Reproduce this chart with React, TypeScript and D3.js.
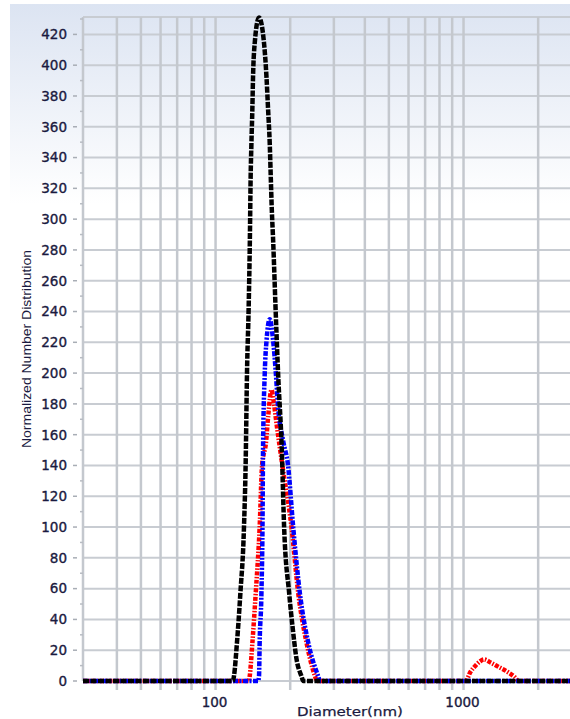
import React, { useRef, useEffect } from 'react';
import * as d3 from 'd3';

// Black series (diameter nm / normalized number)
const blackDiameters = [29.2, 117.5, 118.6, 122, 125.9, 130.2, 132.3, 133.9, 136, 137.5, 138.5, 139.5, 140.7, 141.6, 143.8, 149.7, 156.9, 160.5, 162.9, 165.4, 167, 168.6, 170.7, 174.5, 178.7, 185, 189, 198.1, 204.5, 212.2, 222.2, 225.7, 2688];
const blackValues = [0, 0, 3, 25, 57, 100, 143, 200, 243, 286, 327, 349, 371, 392, 414, 431, 414, 392, 371, 349, 327, 306, 286, 243, 200, 150, 100, 57, 35, 14, 3, 0, 0];

// Blue series
const blueDiameters = [29.2, 148.4, 149.7, 150.6, 153.1, 154.6, 155.4, 157.9, 160.5, 165.4, 170.7, 175, 178.7, 187.3, 196, 205.6, 218.8, 236.4, 259.5, 263.6, 2688];
const blueValues = [0, 0, 3, 25, 57, 100, 150, 200, 221, 235, 221, 200, 178, 156, 140, 100, 57, 25, 3, 0, 0];

// Red series
const redDiameters = [29.2, 136.4, 137.3, 140.8, 145.2, 150.6, 154, 160, 163, 168.1, 172, 176.2, 186, 202.4, 215.5, 232.6, 251.9, 256, 1019, 1067, 1118, 1172, 1208, 1286, 1390, 1503, 1598, 1674, 2688];
const redValues = [0, 0, 3, 25, 57, 100, 140, 156, 172, 189, 180, 167, 140, 100, 57, 25, 3, 0, 0, 6, 10, 13, 14, 12, 9, 6, 3, 0, 0];

// Axes
const xDomain = [29.2, 2688];
const yDomain = [0, 431.3];
const yTicks = d3.range(0, 421, 20);
const yMinorTicks = d3.range(10, 431, 20);
const xGrid = [40, 50, 60, 70, 80, 90, 100, 200, 300, 400, 500, 600, 700, 800, 900, 1000, 2000];
const xLabels = [100, 1000];

const App = () => {
    const svgRef = useRef<SVGSVGElement>(null);
    const svg_width = 570;
    const svg_height = 719;
    const margin = { top: 17, left: 83, right: 570, bottom: 681 };

    useEffect(() => {
        document.body.style.margin = '0';
        const svg = d3.select(svgRef.current);
        svg.selectAll('*').remove();

        const x = d3.scaleLog().domain(xDomain).range([margin.left, margin.right]);
        const y = d3.scaleLinear().domain(yDomain).range([margin.bottom, margin.top]);

        // background gradient
        const defs = svg.append('defs');
        const grad = defs.append('linearGradient').attr('id', 'bg').attr('x1', 0).attr('y1', 0).attr('x2', 0).attr('y2', 1);
        grad.append('stop').attr('offset', '0%').attr('stop-color', '#dce4f2');
        grad.append('stop').attr('offset', '28%').attr('stop-color', '#ffffff');
        svg.append('rect').attr('x', 0).attr('y', 0).attr('width', svg_width).attr('height', svg_height).attr('fill', '#fff');
        svg.append('rect').attr('x', 10).attr('y', 4).attr('width', svg_width - 10).attr('height', svg_height - 4).attr('fill', 'url(#bg)');

        const grid = svg.append('g');
        // horizontal grid
        grid.selectAll('.hgrid')
            .data(yTicks)
            .enter()
            .append('line')
            .attr('x1', margin.left).attr('x2', margin.right)
            .attr('y1', d => y(d)).attr('y2', d => y(d))
            .attr('stroke', '#c8ccd2').attr('stroke-width', 2);
        grid.append('line')
            .attr('x1', margin.left).attr('x2', margin.right)
            .attr('y1', margin.top).attr('y2', margin.top)
            .attr('stroke', '#c8ccd2').attr('stroke-width', 2);
        // vertical grid
        grid.selectAll('.vgrid')
            .data(xGrid)
            .enter()
            .append('line')
            .attr('x1', d => x(d)).attr('x2', d => x(d))
            .attr('y1', margin.top).attr('y2', margin.bottom + 9)
            .attr('stroke', '#c4c8ce').attr('stroke-width', 2.5);
        grid.append('line')
            .attr('x1', margin.left).attr('x2', margin.left)
            .attr('y1', margin.top).attr('y2', margin.bottom)
            .attr('stroke', '#c4c8ce').attr('stroke-width', 2.5);

        // y ticks
        const yAxis = svg.append('g');
        yAxis.selectAll('.major')
            .data(yTicks)
            .enter()
            .append('line')
            .attr('x1', 73).attr('x2', 77)
            .attr('y1', d => y(d)).attr('y2', d => y(d))
            .attr('stroke', '#a8adb5').attr('stroke-width', 1.5);
        yAxis.selectAll('.minor')
            .data(yMinorTicks)
            .enter()
            .append('line')
            .attr('x1', 80).attr('x2', 83)
            .attr('y1', d => y(d)).attr('y2', d => y(d))
            .attr('stroke', '#b8bcc3').attr('stroke-width', 1.5);
        yAxis.selectAll('text')
            .data(yTicks)
            .enter()
            .append('text')
            .attr('x', 67)
            .attr('y', d => y(d))
            .attr('dy', '0.36em')
            .attr('text-anchor', 'end')
            .style('font-family', 'DejaVu Sans, Verdana, sans-serif')
            .style('font-size', '13.5px')
            .attr('fill', '#1a1a40')
            .attr('stroke', '#1a1a40').attr('stroke-width', 0.35)
            .text(d => d);

        svg.append('g').selectAll('text')
            .data(xLabels)
            .enter()
            .append('text')
            .attr('x', d => x(d) - 1)
            .attr('y', 707)
            .attr('text-anchor', 'middle')
            .style('font-family', 'DejaVu Sans, Verdana, sans-serif')
            .style('font-size', '13.5px')
            .attr('fill', '#1a1a40')
            .attr('stroke', '#1a1a40').attr('stroke-width', 0.35)
            .text(d => d);

        // axis titles
        svg.append('text')
            .attr('x', 350).attr('y', 716)
            .attr('text-anchor', 'middle')
            .attr('textLength', 106).attr('lengthAdjust', 'spacingAndGlyphs')
            .style('font-family', 'DejaVu Sans, Verdana, sans-serif')
            .style('font-size', '13px')
            .attr('fill', '#1a1a40')
            .attr('stroke', '#1a1a40').attr('stroke-width', 0.25)
            .text('Diameter(nm)');
        svg.append('text')
            .attr('transform', 'translate(31,349) rotate(-90)')
            .attr('text-anchor', 'middle')
            .attr('textLength', 198).attr('lengthAdjust', 'spacingAndGlyphs')
            .style('font-family', 'Liberation Sans, Arial, sans-serif')
            .style('font-size', '12.5px')
            .attr('fill', '#1a1a40')
            .text('Normalized Number Distribution');

        // curves
        const line = d3.line<[number, number]>()
            .x(d => x(d[0]))
            .y(d => y(d[1]))
            .curve(d3.curveMonotoneX);
        const series = [
            { d: redDiameters, v: redValues, color: '#ff0000', dash: '4,1.5,1.5,1.5' },
            { d: blueDiameters, v: blueValues, color: '#0000ff', dash: '5,1.5,2,1.5' },
            { d: blackDiameters, v: blackValues, color: '#000000', dash: '6,1.5' },
        ];
        const plot = svg.append('g');
        series.forEach(s => {
            const pts = s.d.map((dd, i) => [dd, s.v[i]] as [number, number]);
            plot.append('path')
                .attr('d', line(pts))
                .attr('fill', 'none')
                .attr('stroke', s.color)
                .attr('stroke-width', 4.5)
                .attr('stroke-dasharray', s.dash);
        });
    // eslint-disable-next-line
    }, []);

    return (
        <div style={{ position: 'absolute', left: 0, top: 0 }}>
            <svg ref={svgRef} width={svg_width} height={svg_height} style={{ display: 'block' }}></svg>
        </div>
    );
};

export default App;
